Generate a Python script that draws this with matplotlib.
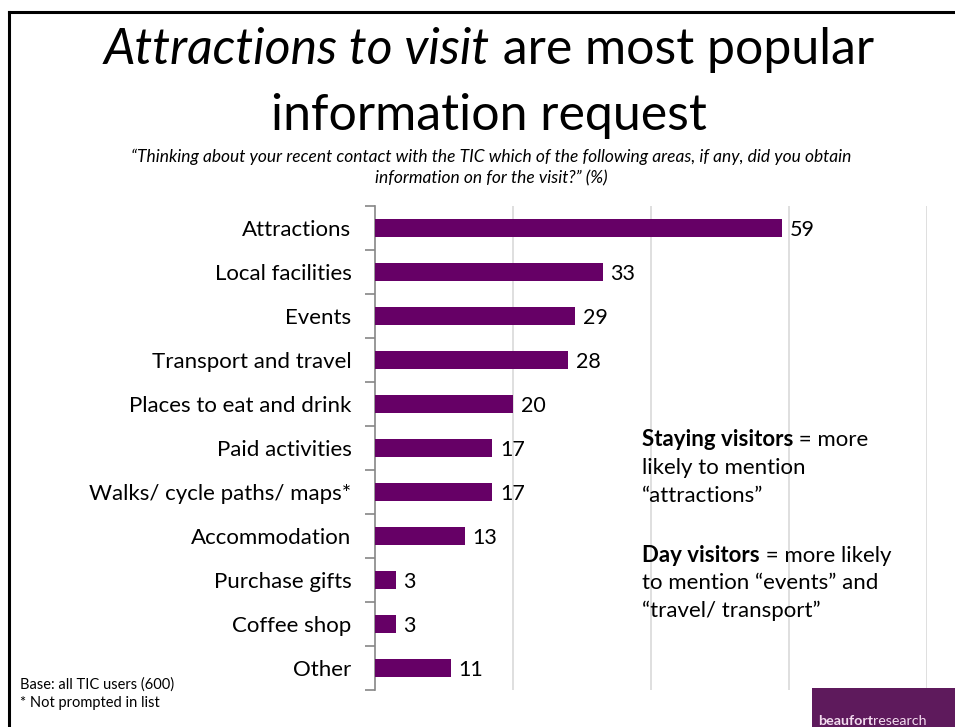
import matplotlib.pyplot as plt
from matplotlib.patches import Rectangle
from matplotlib.lines import Line2D

plt.rcParams['font.family'] = ['Lato', 'DejaVu Sans']

categories = ['Attractions', 'Local facilities', 'Events', 'Transport and travel',
              'Places to eat and drink', 'Paid activities', 'Walks/ cycle paths/ maps*',
              'Accommodation', 'Purchase gifts', 'Coffee shop', 'Other']
values = [59, 33, 29, 28, 20, 17, 17, 13, 3, 3, 11]
grid_ticks = [20, 40, 60, 80]

bar_color = '#660066'
W, H = 955, 727

fig = plt.figure(figsize=(9.55, 7.27), dpi=100)

# slide frame (top and left edges)
fig.add_artist(Line2D([9 / W, 1.0], [1 - 12 / H, 1 - 12 / H], color='black', lw=2.2,
                      transform=fig.transFigure))
fig.add_artist(Line2D([9 / W, 9 / W], [0, 1 - 12 / H], color='black', lw=2.2,
                      transform=fig.transFigure))

# title, first line mixes italic and regular
t1 = fig.text(0, 1 - 50 / H, 'Attractions to visit', fontsize=36, style='italic',
              va='center', ha='left')
t2 = plt.Annotation(' are most popular', xy=(1, 0), xycoords=t1, fontsize=36,
                    va='bottom', ha='left', annotation_clip=False)
fig.add_artist(t2)
fig.canvas.draw()
r = fig.canvas.get_renderer()
w1 = t1.get_window_extent(r).width
w2 = t2.get_window_extent(r).width
t1.set_x((489 - (w1 + w2) / 2) / W)
fig.text(489 / W, 1 - 116 / H, 'information request', fontsize=36, va='center', ha='center')

fig.text(491 / W, 1 - 157 / H,
         '\u201cThinking about your recent contact with the TIC which of the following areas, if any, did you obtain',
         fontsize=12.5, style='italic', ha='center', va='center')
fig.text(491 / W, 1 - 178 / H, 'information on for the visit?\u201d (%)',
         fontsize=12.5, style='italic', ha='center', va='center')

ax = fig.add_axes([375 / W, 1 - 690 / H, (927 - 375) / W, (690 - 206) / H])
y = list(range(len(categories)))
ax.barh(y, values, height=0.41, color=bar_color, zorder=3)
for yi, v in zip(y, values):
    ax.text(v + 1.1, yi, str(v), va='center_baseline', ha='left', fontsize=15.5, zorder=4)

ax.set_xlim(0, 80)
ax.set_ylim(len(categories) - 0.5, -0.5)
ax.set_xticks(grid_ticks)
ax.set_xticklabels([])
ax.tick_params(axis='x', length=0)
ax.grid(axis='x', color='#d9d9d9', lw=1.2, zorder=0)

ax.set_yticks(y)
ax.set_yticklabels(categories, fontsize=16)
ax.tick_params(axis='y', which='major', length=0, pad=17)
ax.set_yticks([i - 0.5 for i in range(len(categories) + 1)], minor=True)
ax.tick_params(axis='y', which='minor', length=7, color='#868686', width=1.2)

for s in ['top', 'right', 'bottom']:
    ax.spines[s].set_visible(False)
ax.spines['left'].set_color('#868686')
ax.spines['left'].set_linewidth(1.2)

# side notes with bold lead-ins
def note_line(x, ypix, bold, rest):
    t = fig.text(x, 1 - ypix / H, bold, fontsize=16, fontweight='bold', va='center', ha='left')
    if rest:
        fig.add_artist(plt.Annotation(rest, xy=(1, 0), xycoords=t, fontsize=16,
                                      va='bottom', ha='left', annotation_clip=False))

nx = 642 / W
note_line(nx, 440, 'Staying visitors', ' = more')
fig.text(nx, 1 - 468 / H, 'likely to mention', fontsize=16, va='center', ha='left')
fig.text(nx, 1 - 496 / H, '\u201cattractions\u201d', fontsize=16, va='center', ha='left')
note_line(nx, 555, 'Day visitors', ' = more likely')
fig.text(nx, 1 - 583 / H, 'to mention \u201cevents\u201d and', fontsize=16, va='center', ha='left')
fig.text(nx, 1 - 611 / H, '\u201ctravel/ transport\u201d', fontsize=16, va='center', ha='left')

fig.text(20 / W, 1 - 685 / H, 'Base: all TIC users (600)', fontsize=10.5, va='center', ha='left')
fig.text(20 / W, 1 - 703 / H, '* Not prompted in list', fontsize=10.5, va='center', ha='left')

# company logo block
fig.add_artist(Rectangle((812 / W, 0), 1 - 812 / W, 39 / H, transform=fig.transFigure,
                         facecolor='#5e1a5c', edgecolor='none'))
lb = fig.text(818 / W, 1 - 721 / H, 'beaufort', fontsize=10.3, fontweight='bold',
              color='#f3dcef', va='center', ha='left')
fig.add_artist(plt.Annotation('research', xy=(1, 0), xycoords=lb, fontsize=10.3,
                              color='#f3dcef', va='bottom', ha='left', annotation_clip=False))

fig.savefig('out.png', dpi=100)
